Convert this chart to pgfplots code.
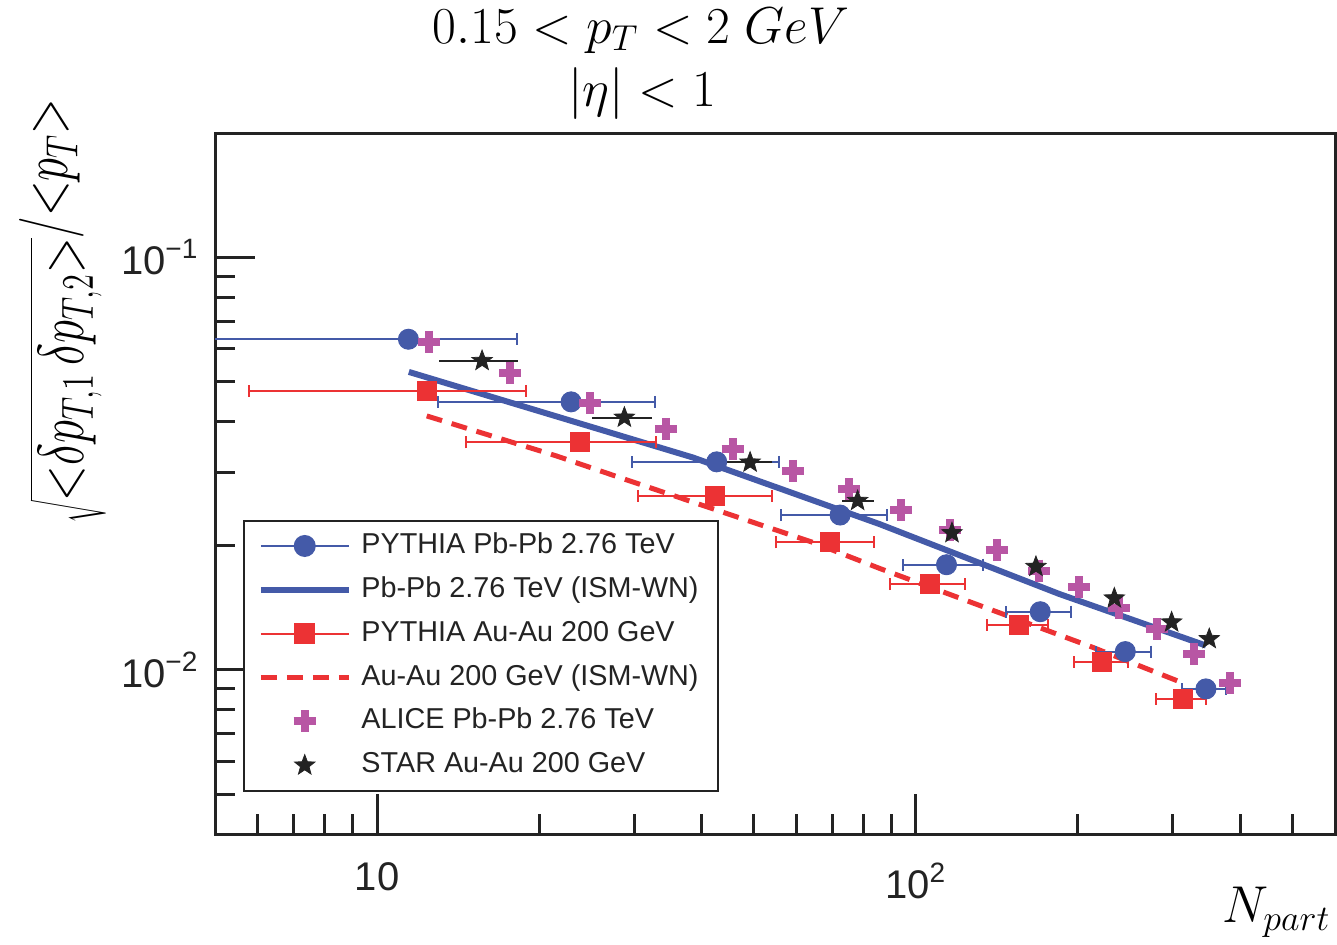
\documentclass[border=0pt]{standalone}
\usepackage{fontspec}
\setmainfont{Liberation Sans}
\usepackage{pgfplots}
\pgfplotsset{compat=1.18}

\definecolor{cblue}{RGB}{68,90,168}
\definecolor{cred}{RGB}{236,50,52}
\definecolor{cmag}{RGB}{184,86,164}
\definecolor{cblack}{RGB}{35,35,35}

\pgfdeclareplotmark{fstar}{%
  \pgfpathmoveto{\pgfpointpolar{90}{\pgfplotmarksize}}%
  \pgfpathlineto{\pgfpointpolar{126}{0.42\pgfplotmarksize}}%
  \pgfpathlineto{\pgfpointpolar{162}{\pgfplotmarksize}}%
  \pgfpathlineto{\pgfpointpolar{198}{0.42\pgfplotmarksize}}%
  \pgfpathlineto{\pgfpointpolar{234}{\pgfplotmarksize}}%
  \pgfpathlineto{\pgfpointpolar{270}{0.42\pgfplotmarksize}}%
  \pgfpathlineto{\pgfpointpolar{306}{\pgfplotmarksize}}%
  \pgfpathlineto{\pgfpointpolar{342}{0.42\pgfplotmarksize}}%
  \pgfpathlineto{\pgfpointpolar{18}{\pgfplotmarksize}}%
  \pgfpathlineto{\pgfpointpolar{54}{0.42\pgfplotmarksize}}%
  \pgfpathclose
  \pgfusepathqfillstroke
}

\begin{document}
\begin{tikzpicture}
\begin{axis}[
  at={(0pt,0pt)}, anchor=south west,
  scale only axis, width=448pt, height=280.4pt,
  xmode=log, ymode=log,
  xmin=5, xmax=600, ymin=0.004, ymax=0.2,
  axis line style={line width=1.2pt, color=cblack},
  tick align=inside, xtick pos=left, ytick pos=left,
  xtick={10,100}, xticklabels={10,10\textsuperscript{2}},
  ytick={0.01,0.1}, yticklabels={10\textsuperscript{−2},10\textsuperscript{−1}},
  minor xtick={6,7,8,9,20,30,40,50,60,70,80,90,200,300,400,500},
  minor ytick={0.005,0.006,0.007,0.008,0.009,0.02,0.03,0.04,0.05,0.06,0.07,0.08,0.09},
  major tick length=16pt, minor tick length=8pt,
  tick style={line width=1.2pt, color=cblack},
  ticklabel style={font=\fontsize{16}{19}\selectfont, color=cblack},
  xticklabel style={yshift=-8pt},
  yticklabel style={xshift=-3pt},
  legend image code/.code={\draw[mark repeat=2,mark phase=2,#1] plot coordinates {(0pt,0pt) (17.5pt,0pt) (35pt,0pt)};},
  legend cell align=left,
  legend style={at={(0.025,0.0605)}, anchor=south west, draw=cblack, line width=0.8pt, fill=white,
    font=\fontsize{11.5}{13.5}\selectfont, inner xsep=5.6pt, inner ysep=2.6pt, row sep=2.55pt,
    nodes={inner sep=2pt, text height=8.5pt, text depth=2.5pt, text=cblack},
    /tikz/every odd column/.append style={column sep=2pt}},
]
% legend images
\addlegendimage{color=cblue, line width=0.8pt, mark=*, mark size=4pt, mark options={solid, fill=cblue}}
\addlegendentry{PYTHIA Pb-Pb 2.76 TeV}
\addlegendimage{color=cblue, line width=2.4pt, mark=none}
\addlegendentry{Pb-Pb 2.76 TeV (ISM-WN)\hspace{12pt}}
\addlegendimage{color=cred, line width=0.8pt, mark=square*, mark size=3.8pt, mark options={solid, fill=cred}}
\addlegendentry{PYTHIA Au-Au 200 GeV}
\addlegendimage{color=cred, line width=2pt, dash pattern=on 6.4pt off 4pt, mark=none}
\addlegendentry{Au-Au 200 GeV (ISM-WN)}
\addlegendimage{only marks, color=cmag, mark=+, mark size=4.4pt, mark options={line width=3.2pt}}
\addlegendentry{ALICE Pb-Pb 2.76 TeV}
\addlegendimage{only marks, color=cblack, mark=fstar, mark size=4.3pt, mark options={line width=0.3pt, fill=cblack}}
\addlegendentry{STAR Au-Au 200 GeV}

% ISM-WN Pb-Pb
\addplot[forget plot, color=cblue, line width=2.4pt, mark=none] coordinates {
 (11.45,0.05272) (38.52,0.03272) (85.57,0.02256) (184.6,0.01527) (345.6,0.01145)};
% ISM-WN Au-Au
\addplot[forget plot, color=cred, line width=2pt, dash pattern=on 6.4pt off 4pt, mark=none] coordinates {
 (12.36,0.04124) (21.49,0.03301) (28.17,0.02926) (64.33,0.02037) (85.57,0.01762) (212.9,0.01134) (310.6,0.00933)};

% PYTHIA Au-Au
\addplot[forget plot, only marks, color=cred, mark=square*, mark size=3.8pt, mark options={fill=cred},
  error bars/.cd, x dir=both, x explicit,
  error bar style={line width=0.8pt, color=cred},
  error mark options={rotate=90, line width=0.8pt, mark size=2.4pt, color=cred}] coordinates {
 (12.36,0.04742) += (6.54,0) -= (6.57,0)
 (23.77,0.03557) += (9.19,0) -= (9.14,0)
 (42.32,0.02641) += (11.69,0) -= (11.77,0)
 (69.30,0.02037) += (14.45,0) -= (14.28,0)
 (106.3,0.01614) += (17.3,0) -= (16.72,0)
 (155.2,0.01285) += (21.0,0) -= (19.9,0)
 (221.6,0.01047) += (25.6,0) -= (24.7,0)
 (312.7,0.0085) += (32.9,0) -= (33.5,0)
};

% PYTHIA Pb-Pb
\addplot[forget plot, only marks, color=cblue, mark=*, mark size=4pt, mark options={fill=cblue},
  error bars/.cd, x dir=both, x explicit,
  error bar style={line width=0.8pt, color=cblue},
  error mark options={rotate=90, line width=0.8pt, mark size=2.4pt, color=cblue}] coordinates {
 (11.43,0.06327) += (6.73,0) -= (7.43,0)
 (22.91,0.04461) += (9.95,0) -= (9.93,0)
 (42.69,0.03192) += (12.96,0) -= (13.00,0)
 (72.34,0.02372) += (16.10,0) -= (16.13,0)
 (114.0,0.01798) += (19.5,0) -= (19.48,0)
 (170.2,0.01383) += (23.9,0) -= (23.1,0)
 (244.8,0.01107) += (28.5,0) -= (28.8,0)
 (345.6,0.00899) += (30.9,0) -= (33.3,0)
};

% ALICE
\addplot[forget plot, only marks, color=cmag, mark=+, mark size=4.4pt, mark options={line width=3.2pt}] coordinates {
 (12.47,0.06245) (17.68,0.05236) (24.88,0.04428) (34.35,0.03837) (45.71,0.03426)
 (59.24,0.03036) (75.28,0.02742) (93.87,0.02438) (115.9,0.02182) (141.3,0.01954)
 (169.5,0.01739) (201.1,0.01585) (238.2,0.0141) (280.4,0.01256) (328.8,0.01093) (383.0,0.0093)
};

% STAR
\addplot[forget plot, only marks, color=cblack, mark=fstar, mark size=4.3pt, mark options={line width=0.3pt, fill=cblack},
  error bars/.cd, x dir=both, x explicit,
  error bar style={line width=0.8pt, color=cblack}, error mark=none] coordinates {
 (15.66,0.05609) += (2.58,0) -= (2.61,0)
 (28.77,0.04088) += (3.62,0) -= (3.75,0)
 (49.24,0.03182) += (4.86,0) -= (4.76,0)
 (77.98,0.02569) += (5.77,0) -= (5.03,0)
 (116.7,0.02146) += (0,0) -= (0,0)
 (167.1,0.01778) += (0,0) -= (0,0)
 (233.6,0.01491) += (0,0) -= (0,0)
 (298.4,0.01304) += (0,0) -= (0,0)
 (350.5,0.01188) += (0,0) -= (0,0)
};
\end{axis}

\node at (170.4pt,321.4pt) {\fontsize{20.5}{24}\selectfont $0.15 < p_T < 2\ GeV$};
\node at (170.8pt,296.2pt) {\fontsize{20.5}{24}\selectfont $|\eta| < 1$};
\node[rotate=90, anchor=west, inner sep=0pt] at (-61pt,124pt) {\scalebox{0.9}[1.25]{\fontsize{20}{24}\selectfont $\sqrt{{<}\delta p_{T,1}\,\delta p_{T,2}{>}}$\raisebox{5pt}{$/{<}p_{T}{>}$}}};
\node[anchor=east, inner sep=0pt] at (446.4pt,-31.2pt) {\fontsize{21.5}{25}\selectfont $N_{part}$};

\pgfresetboundingbox
\path[use as bounding box] (-86pt,-44pt) rectangle (448.8pt,333.6pt);
\end{tikzpicture}
\end{document}
